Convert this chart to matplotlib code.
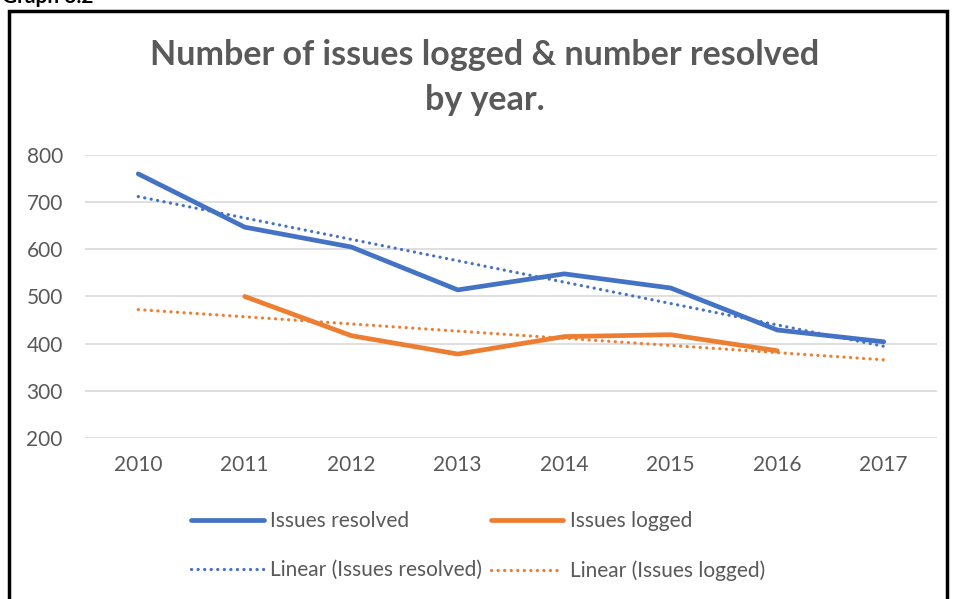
import numpy as np
import matplotlib.pyplot as plt
from matplotlib.patches import Rectangle

plt.rcParams['font.family'] = ['Lato', 'DejaVu Sans']

# data
years = ['2010', '2011', '2012', '2013', '2014', '2015', '2016', '2017']
resolved = [760, 647, 605, 514, 548, 518, 429, 404]
logged = [np.nan, 500, 417, 378, 415, 419, 385, np.nan]

blue = '#4472C4'
orange = '#ED7D31'
grey = '#595959'

x = np.arange(len(years))
res = np.array(resolved, dtype=float)
log = np.array(logged, dtype=float)

# linear trend lines, like excel does
ok = ~np.isnan(res)
p_res = np.polyfit(x[ok], res[ok], 1)
ok = ~np.isnan(log)
p_log = np.polyfit(x[ok], log[ok], 1)

fig = plt.figure(figsize=(9.54, 5.99), dpi=100)
ax = fig.add_axes([85 / 954, 1 - 438 / 599, 852 / 954, 283 / 599])

dots = (0, (0.05, 2.0))
l1, = ax.plot(x, res, color=blue, lw=3.4, solid_capstyle='round', label='Issues resolved', zorder=3)
l2, = ax.plot(x, log, color=orange, lw=3.4, solid_capstyle='round', label='Issues logged', zorder=3)
l3, = ax.plot(x, np.polyval(p_res, x), color=blue, lw=2.3, ls=dots, dash_capstyle='round',
              label='Linear (Issues resolved)', zorder=4)
l4, = ax.plot(x, np.polyval(p_log, x), color=orange, lw=2.3, ls=dots, dash_capstyle='round',
              label='Linear (Issues logged)', zorder=4)

ax.set_xlim(-0.5, len(years) - 0.5)
ax.set_ylim(200, 800)
ax.set_yticks(range(200, 801, 100))
ax.set_xticks(x)
ax.set_xticklabels(years)
ax.grid(axis='y', color='#D9D9D9', lw=1.2)
ax.set_axisbelow(True)
for s in ax.spines.values():
    s.set_visible(False)
ax.tick_params(length=0, labelsize=15, labelcolor=grey)
ax.tick_params(axis='x', pad=12)
ax.tick_params(axis='y', pad=16)

fig.text(485 / 954, 1 - 55 / 599, 'Number of issues logged & number resolved', ha='center', va='center',
         fontsize=24.5, fontweight='bold', color=grey)
fig.text(485 / 954, 1 - 100 / 599, 'by year.', ha='center', va='center',
         fontsize=24.5, fontweight='bold', color=grey)

# legend rows: solid lines on top, trend lines below
leg = fig.legend([l1, l3, l2, l4], [l1.get_label(), l3.get_label(), l2.get_label(), l4.get_label()],
                 ncol=2, loc='center', bbox_to_anchor=(478 / 954, 1 - 546 / 599), frameon=False,
                 fontsize=15, handlelength=3.5, columnspacing=0.4, labelspacing=1.4, handletextpad=0.3)
for t in leg.get_texts():
    t.set_color(grey)

# border around the chart and the cut-off caption above it
fig.patches.append(Rectangle((9 / 954, -0.05), 938 / 954, 1.05 - 11 / 599, transform=fig.transFigure,
                             fill=False, ec='black', lw=2.5, clip_on=False))
fig.text(2 / 954, 1 - 3 / 599, 'Graph 3.2', ha='left', va='baseline', fontsize=15, fontweight='bold')

fig.savefig('out.png', dpi=100)
